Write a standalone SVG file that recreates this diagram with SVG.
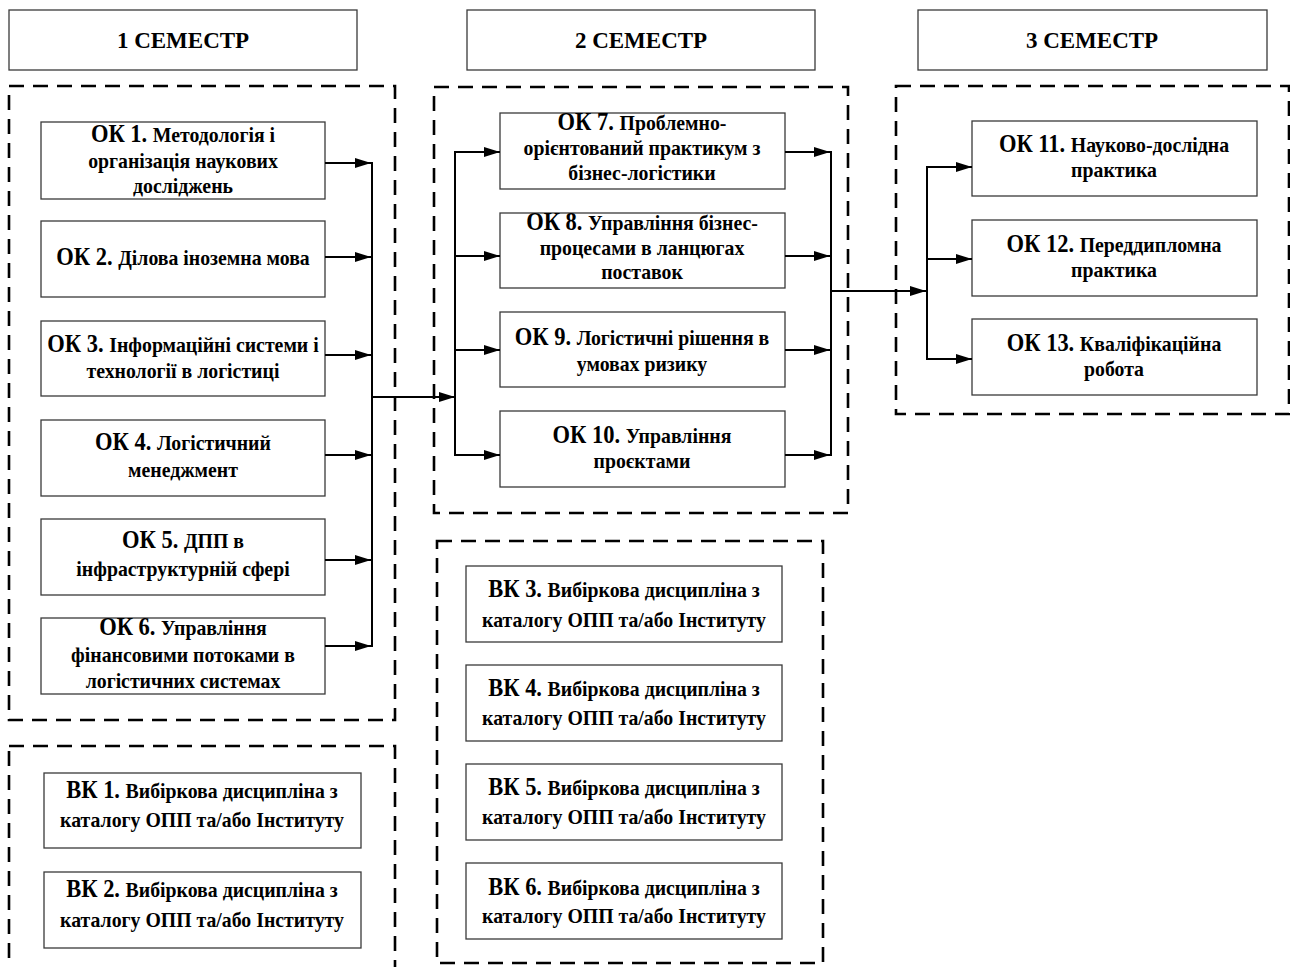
<svg xmlns="http://www.w3.org/2000/svg" width="1290" height="967" viewBox="0 0 1290 967">
<defs>
<marker id="ah" markerUnits="userSpaceOnUse" markerWidth="17" markerHeight="12" refX="16" refY="5" orient="auto">
<path d="M0,0 L16,5 L0,10 z" fill="#000"/>
</marker>
<style>
text{font-family:"Liberation Serif","Times New Roman",serif;font-weight:bold;fill:#000;text-anchor:middle}
.hdr{font-size:23px}
.l{font-size:25px}
.d{font-size:22px}
.box{fill:#fff;stroke:#3a3a3a;stroke-width:1.3}
.grp{fill:none;stroke:#000;stroke-width:2.6;stroke-dasharray:15 9}
.c{fill:none;stroke:#000;stroke-width:2}
.a{fill:none;stroke:#000;stroke-width:2;marker-end:url(#ah)}
</style>
</defs>
<rect width="1290" height="967" fill="#fff"/>

<g id="groups">
<rect class="grp" x="9" y="86" width="386" height="634"/>
<rect class="grp" x="434" y="87" width="414" height="426"/>
<rect class="grp" x="896" y="86" width="393" height="328"/>
<rect class="grp" x="9" y="746" width="386" height="260"/>
<rect class="grp" x="437" y="541" width="386" height="422"/>
</g>

<g id="header1"><rect class="box" x="9" y="10" width="348" height="60"/><text class="hdr" x="183" y="48">1 СЕМЕСТР</text></g>
<g id="header2"><rect class="box" x="467" y="10" width="348" height="60"/><text class="hdr" x="641" y="48">2 СЕМЕСТР</text></g>
<g id="header3"><rect class="box" x="918" y="10" width="349" height="60"/><text class="hdr" x="1092" y="48">3 СЕМЕСТР</text></g>

<g id="ok1"><rect class="box" x="41" y="122" width="284" height="77"/>
<text transform="translate(183 0) scale(.9 1)" y="142"><tspan class="l">ОК 1. </tspan><tspan class="d">Методологія і</tspan></text>
<text class="d" transform="translate(183 0) scale(.9 1)" y="168">організація наукових</text>
<text class="d" transform="translate(183 0) scale(.9 1)" y="193">досліджень</text></g>

<g id="ok2"><rect class="box" x="41" y="221" width="284" height="76"/>
<text transform="translate(183 0) scale(.9 1)" y="265"><tspan class="l">ОК 2. </tspan><tspan class="d">Ділова іноземна мова</tspan></text></g>

<g id="ok3"><rect class="box" x="41" y="321" width="284" height="75"/>
<text transform="translate(183 0) scale(.9 1)" y="352"><tspan class="l">ОК 3. </tspan><tspan class="d">Інформаційні системи і</tspan></text>
<text class="d" transform="translate(183 0) scale(.9 1)" y="378">технології в логістиці</text></g>

<g id="ok4"><rect class="box" x="41" y="420" width="284" height="76"/>
<text transform="translate(183 0) scale(.9 1)" y="450"><tspan class="l">ОК 4. </tspan><tspan class="d">Логістичний</tspan></text>
<text class="d" transform="translate(183 0) scale(.9 1)" y="477">менеджмент</text></g>

<g id="ok5"><rect class="box" x="41" y="519" width="284" height="76"/>
<text transform="translate(183 0) scale(.9 1)" y="548"><tspan class="l">ОК 5. </tspan><tspan class="d">ДПП в</tspan></text>
<text class="d" transform="translate(183 0) scale(.9 1)" y="576">інфраструктурній сфері</text></g>

<g id="ok6"><rect class="box" x="41" y="618" width="284" height="76"/>
<text transform="translate(183 0) scale(.9 1)" y="635"><tspan class="l">ОК 6. </tspan><tspan class="d">Управління</tspan></text>
<text class="d" transform="translate(183 0) scale(.9 1)" y="662">фінансовими потоками в</text>
<text class="d" transform="translate(183 0) scale(.9 1)" y="688">логістичних системах</text></g>

<g id="ok7"><rect class="box" x="500" y="113" width="285" height="76"/>
<text transform="translate(642 0) scale(.9 1)" y="130"><tspan class="l">ОК 7. </tspan><tspan class="d">Проблемно-</tspan></text>
<text class="d" transform="translate(642 0) scale(.9 1)" y="155">орієнтований практикум з</text>
<text class="d" transform="translate(642 0) scale(.9 1)" y="180">бізнес-логістики</text></g>

<g id="ok8"><rect class="box" x="500" y="213" width="285" height="75"/>
<text transform="translate(642 0) scale(.9 1)" y="230"><tspan class="l">ОК 8. </tspan><tspan class="d">Управління бізнес-</tspan></text>
<text class="d" transform="translate(642 0) scale(.9 1)" y="255">процесами в ланцюгах</text>
<text class="d" transform="translate(642 0) scale(.9 1)" y="279">поставок</text></g>

<g id="ok9"><rect class="box" x="500" y="312" width="285" height="75"/>
<text transform="translate(642 0) scale(.9 1)" y="345"><tspan class="l">ОК 9. </tspan><tspan class="d">Логістичні рішення в</tspan></text>
<text class="d" transform="translate(642 0) scale(.9 1)" y="371">умовах ризику</text></g>

<g id="ok10"><rect class="box" x="500" y="411" width="285" height="76"/>
<text transform="translate(642 0) scale(.9 1)" y="443"><tspan class="l">ОК 10. </tspan><tspan class="d">Управління</tspan></text>
<text class="d" transform="translate(642 0) scale(.9 1)" y="468">проєктами</text></g>

<g id="ok11"><rect class="box" x="972" y="121" width="285" height="75"/>
<text transform="translate(1114 0) scale(.9 1)" y="152"><tspan class="l">ОК 11. </tspan><tspan class="d">Науково-дослідна</tspan></text>
<text class="d" transform="translate(1114 0) scale(.9 1)" y="177">практика</text></g>

<g id="ok12"><rect class="box" x="972" y="220" width="285" height="76"/>
<text transform="translate(1114 0) scale(.9 1)" y="252"><tspan class="l">ОК 12. </tspan><tspan class="d">Переддипломна</tspan></text>
<text class="d" transform="translate(1114 0) scale(.9 1)" y="277">практика</text></g>

<g id="ok13"><rect class="box" x="972" y="319" width="285" height="76"/>
<text transform="translate(1114 0) scale(.9 1)" y="351"><tspan class="l">ОК 13. </tspan><tspan class="d">Кваліфікаційна</tspan></text>
<text class="d" transform="translate(1114 0) scale(.9 1)" y="376">робота</text></g>

<g id="vk1"><rect class="box" x="44" y="773" width="317" height="75"/>
<text transform="translate(202 0) scale(.9 1)" y="798"><tspan class="l">ВК 1. </tspan><tspan class="d">Вибіркова дисципліна з</tspan></text>
<text class="d" transform="translate(202 0) scale(.9 1)" y="827">каталогу ОПП та/або Інституту</text></g>

<g id="vk2"><rect class="box" x="44" y="872" width="317" height="76"/>
<text transform="translate(202 0) scale(.9 1)" y="897"><tspan class="l">ВК 2. </tspan><tspan class="d">Вибіркова дисципліна з</tspan></text>
<text class="d" transform="translate(202 0) scale(.9 1)" y="927">каталогу ОПП та/або Інституту</text></g>

<g id="vk3"><rect class="box" x="466" y="566" width="316" height="76"/>
<text transform="translate(624 0) scale(.9 1)" y="597"><tspan class="l">ВК 3. </tspan><tspan class="d">Вибіркова дисципліна з</tspan></text>
<text class="d" transform="translate(624 0) scale(.9 1)" y="627">каталогу ОПП та/або Інституту</text></g>

<g id="vk4"><rect class="box" x="466" y="665" width="316" height="76"/>
<text transform="translate(624 0) scale(.9 1)" y="696"><tspan class="l">ВК 4. </tspan><tspan class="d">Вибіркова дисципліна з</tspan></text>
<text class="d" transform="translate(624 0) scale(.9 1)" y="725">каталогу ОПП та/або Інституту</text></g>

<g id="vk5"><rect class="box" x="466" y="764" width="316" height="76"/>
<text transform="translate(624 0) scale(.9 1)" y="795"><tspan class="l">ВК 5. </tspan><tspan class="d">Вибіркова дисципліна з</tspan></text>
<text class="d" transform="translate(624 0) scale(.9 1)" y="824">каталогу ОПП та/або Інституту</text></g>

<g id="vk6"><rect class="box" x="466" y="863" width="316" height="76"/>
<text transform="translate(624 0) scale(.9 1)" y="895"><tspan class="l">ВК 6. </tspan><tspan class="d">Вибіркова дисципліна з</tspan></text>
<text class="d" transform="translate(624 0) scale(.9 1)" y="923">каталогу ОПП та/або Інституту</text></g>

<g id="connectors">
<line class="a" x1="325" y1="163" x2="371" y2="163"/>
<line class="a" x1="325" y1="257" x2="371" y2="257"/>
<line class="a" x1="325" y1="355" x2="371" y2="355"/>
<line class="a" x1="325" y1="455" x2="371" y2="455"/>
<line class="a" x1="325" y1="560" x2="371" y2="560"/>
<line class="a" x1="325" y1="646" x2="371" y2="646"/>
<line class="c" x1="372" y1="162" x2="372" y2="647"/>
<line class="a" x1="372" y1="397" x2="455" y2="397"/>
<line class="c" x1="455" y1="151" x2="455" y2="456"/>
<line class="a" x1="455" y1="152" x2="500" y2="152"/>
<line class="a" x1="455" y1="256" x2="500" y2="256"/>
<line class="a" x1="455" y1="350" x2="500" y2="350"/>
<line class="a" x1="455" y1="455" x2="500" y2="455"/>
<line class="a" x1="785" y1="152" x2="830" y2="152"/>
<line class="a" x1="785" y1="256" x2="830" y2="256"/>
<line class="a" x1="785" y1="350" x2="830" y2="350"/>
<line class="a" x1="785" y1="455" x2="830" y2="455"/>
<line class="c" x1="831" y1="151" x2="831" y2="456"/>
<line class="a" x1="831" y1="291" x2="926" y2="291"/>
<line class="c" x1="927" y1="166" x2="927" y2="360"/>
<line class="a" x1="927" y1="167" x2="972" y2="167"/>
<line class="a" x1="927" y1="259" x2="972" y2="259"/>
<line class="a" x1="927" y1="359" x2="972" y2="359"/>
</g>
</svg>
